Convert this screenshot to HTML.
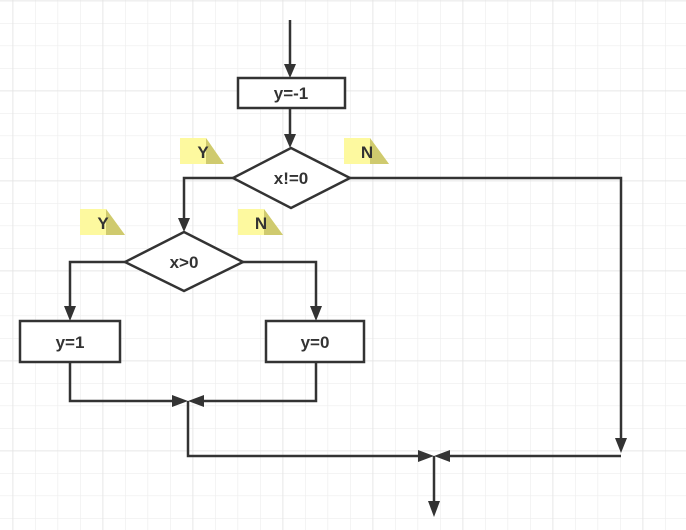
<!DOCTYPE html>
<html><head><style>html,body{margin:0;padding:0;background:#fff}svg{display:block}</style></head>
<body>
<svg width="686" height="530" xmlns="http://www.w3.org/2000/svg">
<defs>
<pattern id="g" x="12.5" y="0.5" width="22.5" height="22.5" patternUnits="userSpaceOnUse">
<path d="M0 0V22.5M0 0H22.5" stroke="#eeeeee" stroke-width="1.3" fill="none"/>
</pattern>
<pattern id="G" x="12.5" y="0.5" width="90" height="90" patternUnits="userSpaceOnUse">
<path d="M0 0V90M0 0H90" stroke="#e2e2e2" stroke-width="1.5" fill="none"/>
</pattern>
<marker id="a" markerWidth="8" markerHeight="8" refX="7" refY="4" orient="auto" markerUnits="userSpaceOnUse" viewBox="0 0 8 8">
</marker>
</defs>
<rect width="686" height="530" fill="url(#g)"/>
<rect width="686" height="530" fill="url(#G)"/>
<g fill="#fdf99f">
<path d="M180 138H206L224 164H180Z"/><path d="M344 138H370L389 164H344Z"/>
<path d="M80 209H106L125 235H80Z"/><path d="M238 209H264L283 235H238Z"/>
</g>
<g fill="#cfca6e">
<path d="M206 138L224 164H206Z"/><path d="M370 138L389 164H370Z"/>
<path d="M106 209L125 235H106Z"/><path d="M264 209L283 235H264Z"/>
</g>
<g stroke="#333" stroke-width="2.5" fill="none">
<path d="M290 20V70"/>
<rect x="238" y="78" width="107" height="30" fill="#fff"/>
<path d="M290 108V140"/>
<path d="M291 148L350 178L291 208L233 178Z" fill="#fff"/>
<path d="M233 178H184V224"/>
<path d="M184 232L243 262L184 291L125 262Z" fill="#fff"/>
<path d="M125 262H70V312"/>
<path d="M243 262H316V312"/>
<rect x="20" y="321" width="100" height="41" fill="#fff"/>
<rect x="266" y="321" width="98" height="41" fill="#fff"/>
<path d="M70 362V401H180M316 362V401H196M188 401V456H425M350 178H621V445M621 456H442M434 456V508"/>
</g>
<g fill="#333">
<path d="M284 64L296 64L290 78Z"/>
<path d="M284 134L296 134L290 148Z"/>
<path d="M178 218L190 218L184 232Z"/>
<path d="M64 306L76 306L70 321Z"/>
<path d="M310 306L322 306L316 321Z"/>
<path d="M172 395L172 407L188 401Z"/>
<path d="M204 395L204 407L188 401Z"/>
<path d="M418 450L418 462L434 456Z"/>
<path d="M450 450L450 462L434 456Z"/>
<path d="M615 438L627 438L621 453Z"/>
<path d="M428 501L440 501L434 517Z"/>
</g>
<g font-family="Liberation Sans, sans-serif" font-weight="bold" font-size="17" fill="#333" text-anchor="middle">
<text x="291" y="99">y=-1</text>
<text x="291" y="184">x!=0</text>
<text x="184" y="268">x&gt;0</text>
<text x="70" y="348">y=1</text>
<text x="315" y="348">y=0</text>
<text x="203" y="158">Y</text>
<text x="367" y="158">N</text>
<text x="103" y="229">Y</text>
<text x="261" y="229">N</text>
</g>
</svg>
</body></html>
